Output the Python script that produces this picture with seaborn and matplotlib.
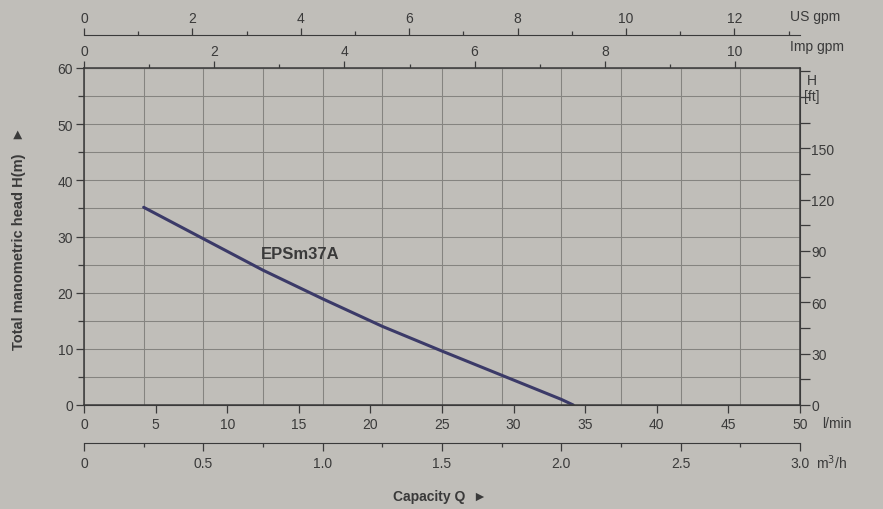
import numpy as np
import pandas as pd
import seaborn as sns
import matplotlib.pyplot as plt
from matplotlib.ticker import MultipleLocator, FixedLocator, FuncFormatter

# curva da bomba EPSm37A (vazao em m3/h, altura em m)
q_m3h = [0.25, 0.5, 0.75, 1.0, 1.25, 1.5, 1.75, 2.0, 2.05]
head_m = [35.2, 29.6, 24.0, 18.9, 14.0, 9.6, 5.3, 1.0, 0.0]
model_name = "EPSm37A"

lmin_ticks = [0, 5, 10, 15, 20, 25, 30, 35, 40, 45, 50]
m3h_ticks = [0, 0.5, 1.0, 1.5, 2.0, 2.5, 3.0]
usgpm_ticks = [0, 2, 4, 6, 8, 10, 12]
impgpm_ticks = [0, 2, 4, 6, 8, 10]
ft_ticks = [0, 30, 60, 90, 120, 150]

paper = '#c0beb9'
ink = '#3a3a3a'
grid_c = '#858480'

sns.set_style("ticks")
plt.rcParams['font.family'] = ['Liberation Sans', 'DejaVu Sans']
plt.rcParams['text.color'] = ink
plt.rcParams['axes.edgecolor'] = ink
plt.rcParams['xtick.color'] = ink
plt.rcParams['ytick.color'] = ink
plt.rcParams['xtick.labelcolor'] = ink
plt.rcParams['ytick.labelcolor'] = ink

df = pd.DataFrame({'Q': q_m3h, 'H': head_m})

fig = plt.figure(figsize=(8.83, 5.10), dpi=100, facecolor=paper)
ax = fig.add_axes([84 / 883, 1 - 406 / 510, 716 / 883, 337 / 510], facecolor=paper)

sns.lineplot(data=df, x='Q', y='H', ax=ax, color='#3b3a68', lw=2.2)
ax.text(0.74, 26.9, model_name, fontsize=12, fontweight='bold', va='center', color=ink)

ax.set_xlim(0, 3.0)
ax.set_ylim(0, 60)

# grade: a cada 0.25 m3/h e a cada 5 m
ax.xaxis.set_major_locator(MultipleLocator(0.25))
ax.tick_params(axis='x', which='both', length=0, labelbottom=False)
ax.yaxis.set_major_locator(MultipleLocator(10))
ax.yaxis.set_minor_locator(MultipleLocator(5))
ax.tick_params(axis='y', which='major', length=6, width=0.9, labelsize=10, pad=2)
ax.tick_params(axis='y', which='minor', length=4, width=0.9)
ax.grid(which='both', color=grid_c, lw=0.75)
ax.set_xlabel('')
ax.set_ylabel('')
for s in ax.spines.values():
    s.set_linewidth(1.1)

k_lmin = 1000 / 60
k_us = 4.40287
k_imp = 3.66615
k_ft = 3.28084

# l/min no eixo de baixo
ax_l = ax.secondary_xaxis('bottom', functions=(lambda x: x * k_lmin, lambda x: x / k_lmin))
ax_l.xaxis.set_major_locator(FixedLocator(lmin_ticks))
ax_l.tick_params(length=6, width=0.9, labelsize=10, pad=3)

# m3/h deslocado para baixo
ax_m = ax.secondary_xaxis(-0.113)
ax_m.xaxis.set_major_locator(FixedLocator(m3h_ticks))
ax_m.xaxis.set_minor_locator(MultipleLocator(0.25))
ax_m.xaxis.set_major_formatter(FuncFormatter(lambda v, p: '0' if v == 0 else f'{v:.1f}'))
ax_m.tick_params(which='major', length=6, width=0.9, labelsize=10, pad=3)
ax_m.tick_params(which='minor', length=3, width=0.9)

# Imp gpm no topo
ax_i = ax.secondary_xaxis('top', functions=(lambda x: x * k_imp, lambda x: x / k_imp))
ax_i.xaxis.set_major_locator(FixedLocator(impgpm_ticks))
ax_i.xaxis.set_minor_locator(MultipleLocator(1))
ax_i.tick_params(which='major', length=5, width=0.9, labelsize=10, pad=2)
ax_i.tick_params(which='minor', length=3, width=0.9)

# US gpm acima
ax_u = ax.secondary_xaxis(1.098, functions=(lambda x: x * k_us, lambda x: x / k_us))
ax_u.xaxis.set_major_locator(FixedLocator(usgpm_ticks))
ax_u.xaxis.set_minor_locator(MultipleLocator(1))
ax_u.tick_params(which='major', length=5, width=0.9, labelsize=10, pad=2)
ax_u.tick_params(which='minor', length=3, width=0.9)

# pes na direita
ax_f = ax.secondary_yaxis('right', functions=(lambda y: y * k_ft, lambda y: y / k_ft))
ax_f.yaxis.set_major_locator(FixedLocator(ft_ticks))
ax_f.yaxis.set_minor_locator(MultipleLocator(15))
ax_f.tick_params(which='major', length=7, width=0.9, labelsize=10, pad=1)
ax_f.tick_params(which='minor', length=7, width=0.9)

# textos de unidade
fig.text(822 / 883, 1 - 424 / 510, 'l/min', fontsize=10, va='center', ha='left')
fig.text(816 / 883, 1 - 463 / 510, 'm$^3$/h', fontsize=10, va='center', ha='left')
fig.text(790 / 883, 1 - 17 / 510, 'US gpm', fontsize=10, va='center', ha='left')
fig.text(790 / 883, 1 - 47 / 510, 'Imp gpm', fontsize=10, va='center', ha='left')
fig.text(812 / 883, 1 - 89 / 510, 'H\n[ft]', fontsize=10, va='center', ha='center', linespacing=1.1)

fig.text(440 / 883, 1 - 497 / 510, 'Capacity Q  \u25ba', fontsize=10, fontweight='bold',
         va='center', ha='center')
fig.text(19 / 883, 1 - 238 / 510, 'Total manometric head H(m)   \u25ba', fontsize=10.5,
         fontweight='bold', va='center', ha='center', rotation=90)

fig.savefig('out.png', dpi=100, facecolor=paper)
